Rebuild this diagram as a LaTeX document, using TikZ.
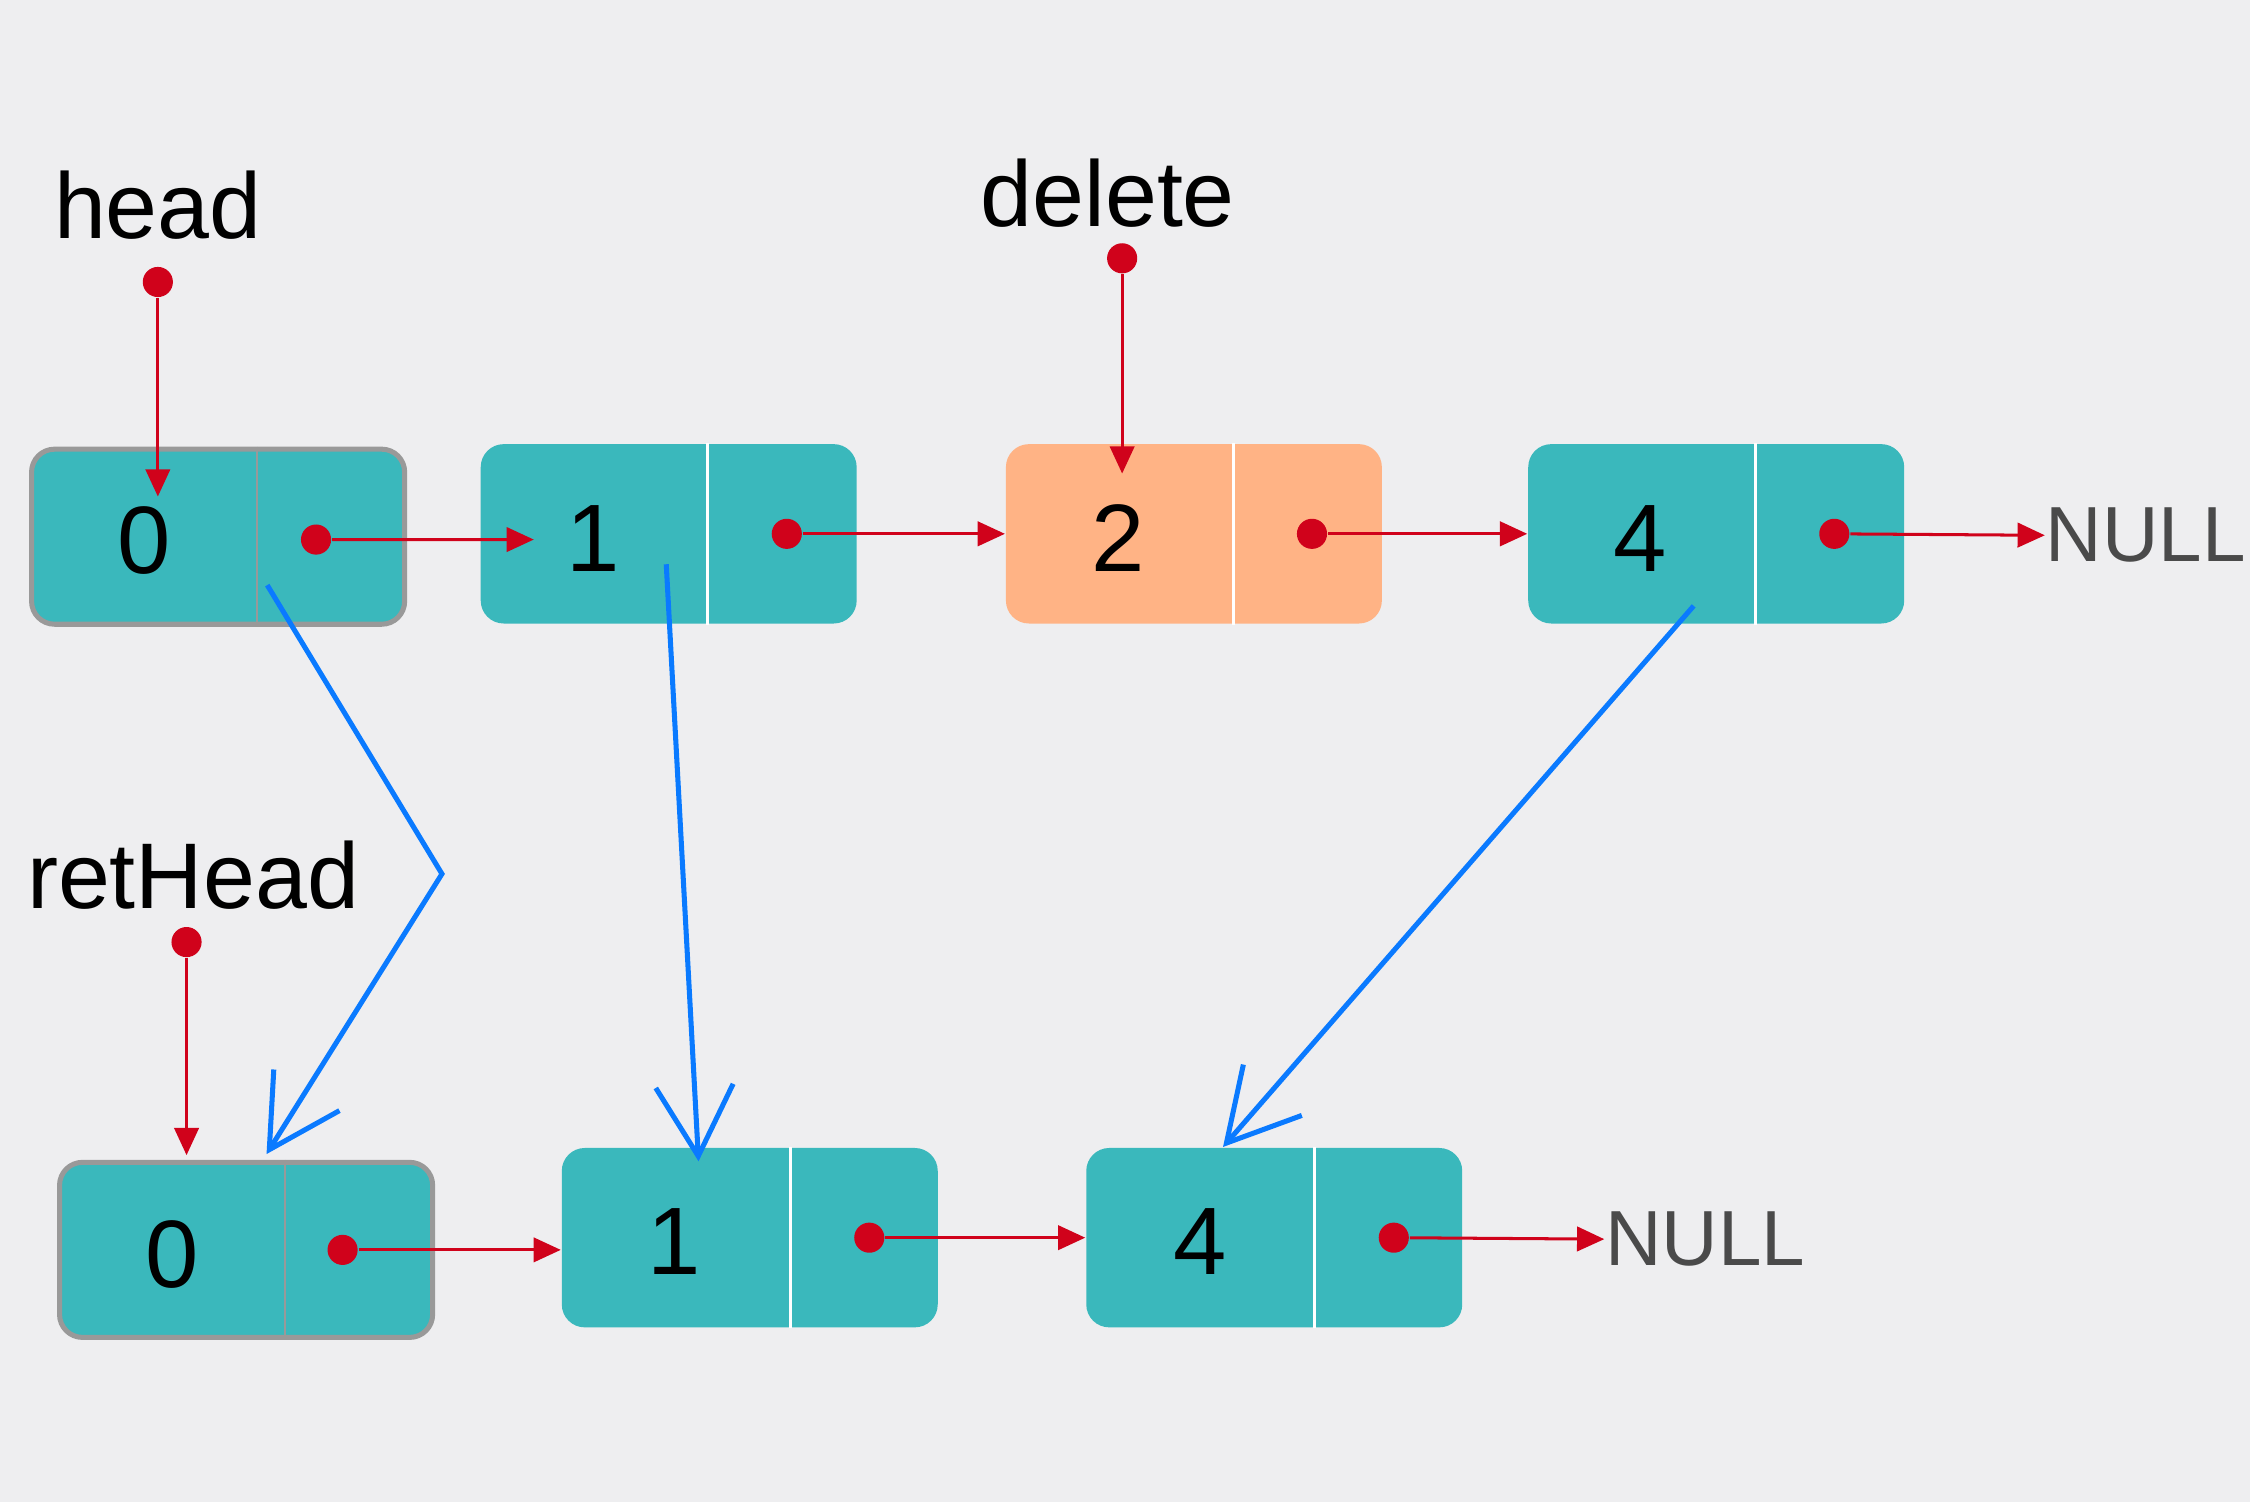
\documentclass[tikz,border=0pt]{standalone}
\usepackage{fontspec}
\setmainfont{Liberation Sans}
\usetikzlibrary{arrows.meta}

\definecolor{bgcol}{HTML}{EEEEF0}
\definecolor{nodeteal}{HTML}{3AB8BC}
\definecolor{delorange}{HTML}{FFB385}
\definecolor{ptrred}{HTML}{D0021B}
\definecolor{linkblue}{HTML}{0A7AFF}
\definecolor{framegray}{HTML}{999999}
\definecolor{nulltext}{HTML}{4A4A4A}

\tikzset{
  cell/.style={rectangle, rounded corners=0.16cm, fill=nodeteal, minimum width=2.62cm, minimum height=1.25cm, inner sep=0pt},
  headcell/.style={cell, minimum width=2.60cm, minimum height=1.22cm, draw=framegray, line width=1pt},
  delcell/.style={cell, fill=delorange},
  val/.style={font=\fontsize{19}{22}\selectfont, inner sep=0pt, yshift=-0.03cm},
  lbl/.style={font=\fontsize{18.5}{22}\selectfont, inner sep=0pt, anchor=base},
  nulllbl/.style={font=\fontsize{15.5}{18}\selectfont, text=nulltext, inner sep=0pt, anchor=base west},
  ptrdot/.style={circle, fill=ptrred, minimum size=0.21cm, inner sep=0pt},
  ptr/.style={draw=ptrred, line width=0.6pt, -{Triangle[length=0.19cm,width=0.17cm]}},
  movelink/.style={draw=linkblue, line width=1pt, -{Straight Barb[length=0.49cm,width=0.54cm]}},
  divider/.style={draw=white, line width=0.6pt},
  headdivider/.style={draw=framegray, line width=0.5pt}
}

\begin{document}
\begin{tikzpicture}

\useasboundingbox (0,0) rectangle (15.68,-10.47);
\fill[bgcol] (0,0) rectangle (15.68,-10.47);

% list before the delete
\node[headcell] (h0) at (1.52,-3.74) {};
\node[cell] (t1) at (4.66,-3.72) {};
\node[delcell] (t2) at (8.32,-3.72) {};
\node[cell] (t4) at (11.96,-3.72) {};

\draw[headdivider] ([xshift=1.59cm]h0.north west) -- ([xshift=1.59cm]h0.south west);
\draw[divider] ([xshift=1.59cm]t1.north west) -- ([xshift=1.59cm]t1.south west);
\draw[divider] ([xshift=1.59cm]t2.north west) -- ([xshift=1.59cm]t2.south west);
\draw[divider] ([xshift=1.59cm]t4.north west) -- ([xshift=1.59cm]t4.south west);

\node[val] (h0v) at ([xshift=0.80cm]h0.west) {0};
\node[val] (t1v) at ([xshift=0.79cm]t1.west) {1};
\node[val] (t2v) at ([xshift=0.79cm]t2.west) {2};
\node[val] (t4v) at ([xshift=0.79cm]t4.west) {4};

% list after the delete
\node[headcell] (b0) at (1.715,-8.71) {};
\node[cell] (b1) at (5.225,-8.625) {};
\node[cell] (b4) at (8.88,-8.625) {};

\draw[headdivider] ([xshift=1.59cm]b0.north west) -- ([xshift=1.59cm]b0.south west);
\draw[divider] ([xshift=1.60cm]b1.north west) -- ([xshift=1.60cm]b1.south west);
\draw[divider] ([xshift=1.60cm]b4.north west) -- ([xshift=1.60cm]b4.south west);

\node[val] (b0v) at ([xshift=0.80cm]b0.west) {0};
\node[val] (b1v) at ([xshift=0.79cm]b1.west) {1};
\node[val] (b4v) at ([xshift=0.80cm]b4.west) {4};

% moved links
\coordinate (bend) at (3.08,-6.09);
\draw[movelink] ([shift={(1.66,0.29)}]h0.south west) -- (bend) -- ([shift={(1.46,0.04)}]b0.north west);
\draw[movelink] ([shift={(1.30,0.42)}]t1.south west) -- ([shift={(0.96,-0.10)}]b1.north west);
\draw[movelink] ([shift={(1.16,0.13)}]t4.south west) -- ([shift={(0.96,0)}]b4.north west);

% names
\node[lbl] (headname) at (1.10,-1.66) {head};
\node[lbl] (delname) at (7.72,-1.58) {delete};
\node[lbl] (retname) at (1.345,-6.33) {retHead};
\node[nulllbl] (null1) at (14.25,-3.915) {NULL};
\node[nulllbl] (null2) at (11.18,-8.82) {NULL};

% pointers
\node[ptrdot] (headp) at (1.10,-1.965) {};
\node[ptrdot] (delp) at (7.82,-1.80) {};
\node[ptrdot] (retp) at (1.30,-6.565) {};
\coordinate (headtip) at (1.10,-3.46);
\coordinate (deltip) at (7.82,-3.30);
\coordinate (rettip) at (1.30,-8.05);
\draw[ptr] (headp) -- (headtip);
\draw[ptr] (delp) -- (deltip);
\draw[ptr] (retp) -- (rettip);

\node[ptrdot] (h0p) at ([shift={(2.0,-0.02)}]h0.west) {};
\node[ptrdot] (t1p) at ([xshift=2.14cm]t1.west) {};
\node[ptrdot] (t2p) at ([xshift=2.14cm]t2.west) {};
\node[ptrdot] (t4p) at ([xshift=2.14cm]t4.west) {};
\node[ptrdot] (b0p) at ([xshift=1.99cm]b0.west) {};
\node[ptrdot] (b1p) at ([xshift=2.15cm]b1.west) {};
\node[ptrdot] (b4p) at ([xshift=2.15cm]b4.west) {};

\coordinate (t1in) at (3.72,-3.76);
\draw[ptr] (h0p) -- (t1in);
\draw[ptr] (t1p) -- (t2.west);
\draw[ptr] (t2p) -- (t4.west);
\draw[ptr] (t4p) -- (null1.west);
\draw[ptr] (b0p) -- (b0p -| b1.west);
\draw[ptr] (b1p) -- (b4.west);
\draw[ptr] (b4p) -- (null2.west);

\end{tikzpicture}
\end{document}
